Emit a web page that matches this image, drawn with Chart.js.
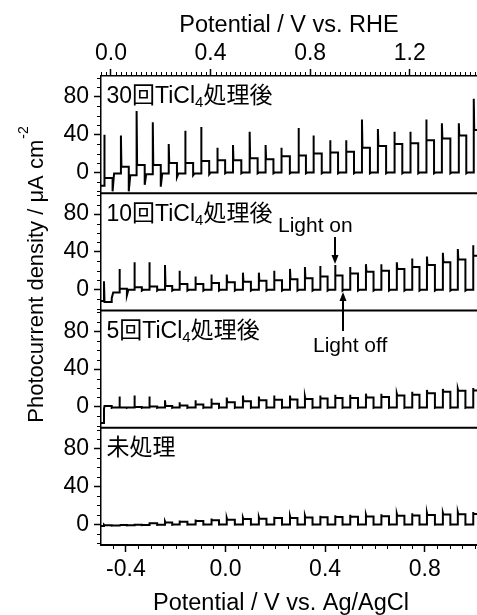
<!DOCTYPE html>
<html>
<head>
<meta charset="utf-8">
<script src="https://cdn.jsdelivr.net/npm/chart.js@4.4.1/dist/chart.umd.min.js"></script>
<style>
  html, body { margin: 0; padding: 0; background: #fff; }
  canvas { display: block; }
</style>
</head>
<body>
<canvas id="photoChart" width="477" height="615"></canvas>
<script>
// light-on potentials (V vs. Ag/AgCl)
const lightOn30 = [-0.487, -0.420, -0.357, -0.292, -0.228, -0.162, -0.098, -0.033, 0.030, 0.097, 0.161, 0.224,
                   0.293, 0.353, 0.420, 0.484, 0.548, 0.612, 0.678, 0.742, 0.806, 0.869, 0.937, 0.997];
const lightOn = [-0.488, -0.426, -0.366, -0.306, -0.243, -0.185, -0.121, -0.057, 0.005, 0.070, 0.134, 0.195,
                 0.259, 0.319, 0.380, 0.440, 0.500, 0.564, 0.625, 0.688, 0.749, 0.809, 0.873, 0.933, 0.994];

// 30回 TiCl4
const peak30 = [40, 39, 65, 53, 30, 44, 48, 26, 29, 43, 29, 26, 47, 39, 34, 34, 56, 46, 43, 43, 56, 52, 52, 78];
const plat30 = [-6, 6, 8, 8, 10, 10, 12, 13, 13, 15, 14, 17, 18, 20, 21, 22, 26, 28, 30, 31, 34, 36, 39, 45];
const dip30  = [-20, -20, -13, -15, -5, -3, -2, -1, -1, -1, -1, -1, -1, -1, -1, -1, -1, -1, -1, -1, -1, -1, -1, -1];
const dark30 = [-1, -3, -2, -1, -1, -1, 0, 0, 0, 0, 0, 0, 0, 0, 0, 0, 0, 0, 0, 0, 0, 0, 0, 0];
// 10回 TiCl4
const peak10 = [9, 22, 29, 29, 26, 20, 14, 16, 16, 18, 18, 20, 22, 24, 25, 26, 24, 27, 27, 29, 33, 35, 39, 43, 47];
const plat10 = [-13, 1, 2.5, 3.5, 4, 6, 6, 7, 8, 8.5, 9.5, 10, 11, 12, 14, 15, 17, 19, 20, 22, 24, 26, 29, 32, 36];
const dip10  = [-9, -6, -1, -1, -1, -1, -1, -1, -1, -1, -1, -1, -1, -1, -1, -1, -1, -1, -1, -1, -1, -1, -1, -1, -1];
const dark10 = [-3, 0, 0, 0, 0, 0, 0, 0, 0, 0, 0, 0, 0, 0, 0, 0, 0, 0, 0, 0, 0, 0, 0, 0, 0];
// 5回 TiCl4
const peak5 = [-2, 11, 12, 11, 7, 5, 7, 9, 10, 12, 11, 12, 12, 11, 12, 13, 13, 14, 14, 14, 16, 18, 19, 19, 20];
const plat5 = [1, -0.5, 0, 0.5, 1, 1.5, 2.5, 3.5, 5, 6, 7, 7.5, 8, 8.5, 9, 9.5, 9.5, 10, 10.5, 12, 13, 14.5, 16, 17, 17.5];
const dip5  = [-1, -1, -1, -1, -1, -1, -1, -1, -1, -1, -1, -1, -1, -1, -1, -1, -1, -1, -1, -1, -1, -1, -1, -1, -1];
const dark5 = [-0.5, -0.5, -0.5, -0.5, -0.5, -0.5, -0.5, -0.5, -0.5, -0.5, -0.5, -0.5, -0.5, -0.5, -0.5, -0.5, -0.5, -0.5, -0.5, -0.5, -0.5, -0.5, -0.5, -0.5, -0.5];
// 未処理
const peak0 = [-0.5, -0.3, 0.5, 2, 3, 4, 5, 6, 6.5, 7, 7.5, 8, 8.5, 9, 9, 9.5, 10, 10, 10.5, 11, 11.5, 12, 12, 12.5, 13];
const plat0 = [-1, -0.8, -0.5, 1, 1.8, 2.5, 3.5, 4.3, 4.6, 5.5, 5.8, 6.5, 6.5, 7.2, 7.3, 7.5, 7.9, 8.2, 8.4, 9, 9.2, 9.6, 10.2, 10.4, 10.8];
const dip0  = [-1.5, -1.2, -1, -0.8, -0.6, -0.5, -0.5, -0.5, -0.5, -0.5, -0.5, -0.5, -0.5, -0.5, -0.5, -0.5, -0.5, -0.5, -0.5, -0.5, -0.5, -0.5, -0.5, -0.5, -0.5];
const dark0 = [-1.3, -1, -0.8, -0.6, -0.4, -0.3, -0.3, -0.3, -0.3, -0.3, -0.3, -0.3, -0.3, -0.3, -0.3, -0.3, -0.3, -0.3, -0.3, -0.3, -0.3, -0.3, -0.3, -0.3, -0.3];

const startLevel = [-14, -12, -17, -1.8];   // 30回, 10回, 5回, 未処理
const panelNames = ['30回TiCl', '10回TiCl', '5回TiCl', '未処理'];
const yTicks = [0, 40, 80];
const agTicks = [-0.4, 0.0, 0.4, 0.8];
const rheTicks = [0.0, 0.4, 0.8, 1.2];
const rheOffset = 0.46;

const X_MIN = -0.5, X_MAX = 1.01;
const Y_MIN = -22, Y_MAX = 102;
const FONT = "'Liberation Sans', Arial, 'Noto Sans CJK JP', sans-serif";

Chart.defaults.color = '#000';
Chart.defaults.font.family = FONT;

// chopped-light trace: dark -> spike -> plateau -> off (dip) -> dark
function buildTrace(on, peak, plat, dip, dark, start) {
    const pts = [{x: X_MIN, y: start}];
    let level = start;
    on.forEach((v, i) => {
        const next = i + 1 < on.length ? on[i + 1] : v + (v - on[i - 1]);
        const off = (v + next) / 2;
        pts.push({x: v, y: level});
        pts.push({x: v, y: peak[i]});
        pts.push({x: v + 0.002, y: plat[i]});
        pts.push({x: off, y: plat[i]});
        pts.push({x: off, y: dip[i]});
        pts.push({x: off + 0.006, y: dark[i]});
        level = dark[i];
    });
    return pts;
}

function panelAxis() {
    return {
        type: 'linear', position: 'left', stack: 'panels', stackWeight: 1,
        min: Y_MIN, max: Y_MAX,
        afterBuildTicks: s => { s.ticks = yTicks.map(v => ({value: v})); },
        afterFit: s => { s.width = 101; },
        ticks: { font: {size: 23}, padding: 5, callback: v => String(v) },
        grid: { drawOnChartArea: false, tickLength: 7, tickColor: '#000', tickWidth: 1.5 },
        border: { color: '#000', width: 1.5 }
    };
}

function line(id, label, data) {
    return { label: label, yAxisID: id, data: data, borderColor: '#000', borderWidth: 2,
             pointRadius: 0, tension: 0, borderJoinStyle: 'miter', fill: false };
}

const framePlugin = {
    id: 'frame',
    afterDraw(chart) {
        const {ctx, chartArea: a, scales} = chart;
        ctx.save();
        ctx.strokeStyle = '#000';
        ctx.fillStyle = '#000';

        // panel separators
        ctx.lineWidth = 2;
        ['y0', 'y5', 'y10'].forEach(id => {
            const top = scales[id].top;
            ctx.beginPath(); ctx.moveTo(a.left, top); ctx.lineTo(a.right, top); ctx.stroke();
        });

        // minor ticks
        ctx.lineWidth = 1;
        ['y0', 'y5', 'y10', 'y30'].forEach(id => {
            const s = scales[id];
            for (let v = -20; v <= 100; v += 10) {
                if (v % 40 === 0) continue;
                const y = Math.round(s.getPixelForValue(v)) + 0.5;
                ctx.beginPath(); ctx.moveTo(a.left - 4, y); ctx.lineTo(a.left, y); ctx.stroke();
            }
        });
        for (let v = -0.45; v < X_MAX; v += 0.05) {
            if (agTicks.some(t => Math.abs(t - v) < 1e-6)) continue;
            const x = Math.round(scales.x.getPixelForValue(v)) + 0.5;
            ctx.beginPath(); ctx.moveTo(x, a.bottom); ctx.lineTo(x, a.bottom + 4); ctx.stroke();
        }
        for (let v = -0.04; v < X_MAX + rheOffset; v += 0.02) {
            if (rheTicks.some(t => Math.abs(t - v) < 1e-6)) continue;
            const x = Math.round(scales.xTop.getPixelForValue(v)) + 0.5;
            ctx.beginPath(); ctx.moveTo(x, a.top); ctx.lineTo(x, a.top - 4); ctx.stroke();
        }

        // axis titles
        ctx.font = '23.5px ' + FONT;
        ctx.textAlign = 'center';
        ctx.textBaseline = 'alphabetic';
        ctx.fillText('Potential / V vs. RHE', 289, 32);
        ctx.fillText('Potential / V vs. Ag/AgCl', 281, 610);

        const yMain = 'Photocurrent density / \u03bcA cm';
        const ySup = '-2';
        ctx.font = '22px ' + FONT;
        const w1 = ctx.measureText(yMain).width;
        ctx.font = '14px ' + FONT;
        const w2 = ctx.measureText(ySup).width;
        ctx.translate(43, 275);
        ctx.rotate(-Math.PI / 2);
        ctx.textAlign = 'left';
        ctx.font = '22px ' + FONT;
        ctx.fillText(yMain, -(w1 + w2) / 2, 0);
        ctx.font = '14px ' + FONT;
        ctx.fillText(ySup, -(w1 + w2) / 2 + w1 + 1, -15);
        ctx.setTransform(1, 0, 0, 1, 0, 0);

        // panel labels
        const ids = ['y30', 'y10', 'y5', 'y0'];
        ids.forEach((id, i) => {
            const x0 = scales.x.getPixelForValue(-0.478);
            const yb = scales[id].getPixelForValue(73);
            ctx.textAlign = 'left';
            ctx.font = '23px ' + FONT;
            ctx.fillText(panelNames[i], x0, yb);
            if (i === 3) return;
            let x = x0 + ctx.measureText(panelNames[i]).width;
            ctx.font = '15px ' + FONT;
            ctx.fillText('4', x, yb + 4);
            x += ctx.measureText('4').width;
            ctx.font = '23px ' + FONT;
            ctx.fillText('処理後', x, yb);
        });

        // Light on / Light off arrows
        const k = 15;
        const onX = Math.round(scales.x.getPixelForValue(lightOn[k]));
        const onTip = scales.y10.getPixelForValue(peak10[k]) - 1;
        drawArrow(ctx, onX, onTip - 27, onTip);
        ctx.font = '21px ' + FONT;
        ctx.textAlign = 'left';
        ctx.fillText('Light on', onX - 57, onTip - 32);

        const offX = Math.round(scales.x.getPixelForValue((lightOn[k] + lightOn[k + 1]) / 2));
        const offTip = scales.y10.getPixelForValue(-2.5);
        drawArrow(ctx, offX, offTip + 39, offTip);
        ctx.fillText('Light off', offX - 30, offTip + 60);

        ctx.restore();
    }
};

function drawArrow(ctx, x, yFrom, yTip) {
    const dir = yTip > yFrom ? 1 : -1;
    ctx.lineWidth = 2;
    ctx.beginPath(); ctx.moveTo(x, yFrom); ctx.lineTo(x, yTip - dir * 6); ctx.stroke();
    ctx.beginPath();
    ctx.moveTo(x, yTip);
    ctx.lineTo(x - 3.5, yTip - dir * 9);
    ctx.lineTo(x + 3.5, yTip - dir * 9);
    ctx.closePath();
    ctx.fill();
}

const ctx = document.getElementById('photoChart').getContext('2d');
new Chart(ctx, {
    type: 'line',
    data: {
        datasets: [
            line('y30', '30回TiCl4処理後', buildTrace(lightOn30, peak30, plat30, dip30, dark30, startLevel[0])),
            line('y10', '10回TiCl4処理後', buildTrace(lightOn, peak10, plat10, dip10, dark10, startLevel[1])),
            line('y5', '5回TiCl4処理後', buildTrace(lightOn, peak5, plat5, dip5, dark5, startLevel[2])),
            line('y0', '未処理', buildTrace(lightOn, peak0, plat0, dip0, dark0, startLevel[3]))
        ]
    },
    options: {
        responsive: false,
        animation: false,
        layout: { padding: 0 },
        plugins: { legend: { display: false }, tooltip: { enabled: false } },
        scales: {
            x: {
                type: 'linear', position: 'bottom', min: X_MIN, max: X_MAX,
                afterBuildTicks: s => { s.ticks = agTicks.map(v => ({value: v})); },
                afterFit: s => { s.height = 70; },
                ticks: { font: {size: 23}, padding: 4, maxRotation: 0, autoSkip: false, callback: v => v.toFixed(1) },
                grid: { drawOnChartArea: false, tickLength: 7, tickColor: '#000', tickWidth: 1.5 },
                border: { color: '#000', width: 2 }
            },
            xTop: {
                type: 'linear', position: 'top', min: X_MIN + rheOffset, max: X_MAX + rheOffset,
                afterBuildTicks: s => { s.ticks = rheTicks.map(v => ({value: v})); },
                afterFit: s => { s.height = 76; },
                ticks: { font: {size: 23}, padding: 2, maxRotation: 0, autoSkip: false, callback: v => v.toFixed(1) },
                grid: { drawOnChartArea: false, tickLength: 7, tickColor: '#000', tickWidth: 1.5 },
                border: { color: '#000', width: 1.5 }
            },
            y0: panelAxis(),
            y5: panelAxis(),
            y10: panelAxis(),
            y30: panelAxis()
        }
    },
    plugins: [framePlugin]
});
</script>
</body>
</html>
